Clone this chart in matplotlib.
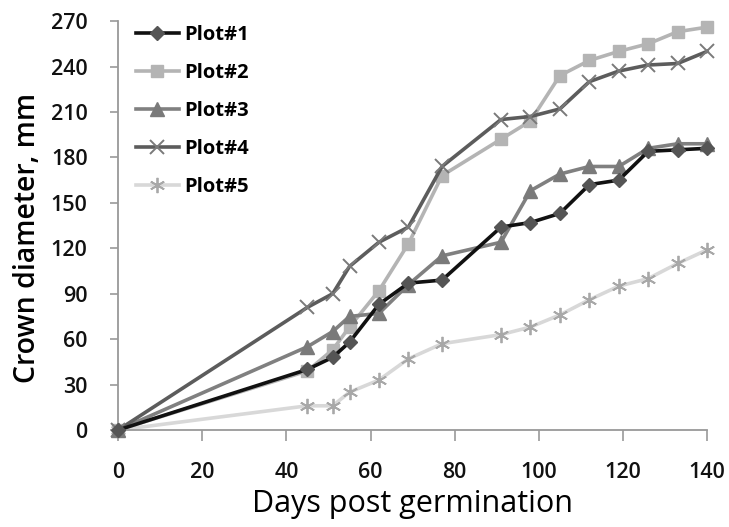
import matplotlib
matplotlib.use("Agg")
import matplotlib.pyplot as plt

plt.rcParams["font.family"] = ["Open Sans", "DejaVu Sans"]

# days post germination (sampling days)
days = [0, 45, 51, 55, 62, 69, 77, 91, 98, 105, 112, 119, 126, 133, 140]

# crown diameter, mm
plot1 = [0, 40, 48, 58, 83, 97, 99, 134, 137, 143, 162, 165, 184, 185, 186]
plot2 = [0, 39, 53, 68, 92, 123, 168, 192, 204, 234, 244, 250, 255, 263, 266]
plot3 = [0, 55, 65, 75, 77, 96, 115, 124, 158, 169, 174, 174, 186, 189, 189]
plot4 = [0, 81, 90, 108, 124, 134, 174, 205, 207, 212, 230, 237, 241, 242, 250]
plot5 = [0, 16, 16, 25, 33, 47, 57, 63, 68, 76, 86, 95, 100, 110, 119]

labels = ["Plot#1", "Plot#2", "Plot#3", "Plot#4", "Plot#5"]
xticks = [0, 20, 40, 60, 80, 100, 120, 140]
yticks = [0, 30, 60, 90, 120, 150, 180, 210, 240, 270]

fig = plt.figure(figsize=(7.29, 5.27), dpi=100)
ax = fig.add_axes([0.162, 0.184, 0.808, 0.776])

ax.plot(days, plot1, color="#111111", lw=2.6, marker="D", ms=7,
        mfc="#555555", mec="#555555", label=labels[0], zorder=6)
ax.plot(days, plot2, color="#b4b4b4", lw=2.6, marker="s", ms=9,
        mfc="#b4b4b4", mec="#b4b4b4", label=labels[1], zorder=3)
ax.plot(days, plot3, color="#808080", lw=2.6, marker="^", ms=9.5,
        mfc="#7a7a7a", mec="#7a7a7a", label=labels[2], zorder=4)
ax.plot(days, plot4, color="#5c5c5c", lw=2.6, marker="x", ms=10, mew=1.4,
        mec="#7a7a7a", label=labels[3], zorder=5)
ax.plot(days, plot5, color="#d8d8d8", lw=2.6, marker=(6, 2, 0), ms=11, mew=1.3,
        mec="#a8a8a8", label=labels[4], zorder=2)

ax.set_xlim(0, 140)
ax.set_ylim(0, 270)
ax.set_xticks(xticks)
ax.set_yticks(yticks)
ax.tick_params(axis="both", labelsize=15.5, colors="#999999", labelcolor="#111111")
ax.tick_params(axis="y", length=6, width=1.2, pad=16)
ax.tick_params(axis="x", length=8, width=1.2, pad=15, direction="out")
for lab in ax.get_xticklabels() + ax.get_yticklabels():
    lab.set_fontweight("semibold")
for s in ["top", "right"]:
    ax.spines[s].set_visible(False)
for s in ["left", "bottom"]:
    ax.spines[s].set_color("#999999")
    ax.spines[s].set_linewidth(1.3)
for ln in ax.lines:
    ln.set_clip_on(False)

ax.set_ylabel("Crown diameter, mm", fontsize=20.5, fontweight="semibold")
ax.yaxis.set_label_coords(-0.13, 0.47)
ax.set_xlabel("Days post germination", fontsize=22)
ax.xaxis.set_label_coords(0.5, -0.145)

leg = ax.legend(loc="upper left", bbox_to_anchor=(0.0, 1.035), frameon=False,
                prop={"size": 14.5, "weight": "bold"}, handlelength=2.1,
                labelspacing=0.9, handletextpad=0.3)

fig.savefig("out.png", dpi=100)
